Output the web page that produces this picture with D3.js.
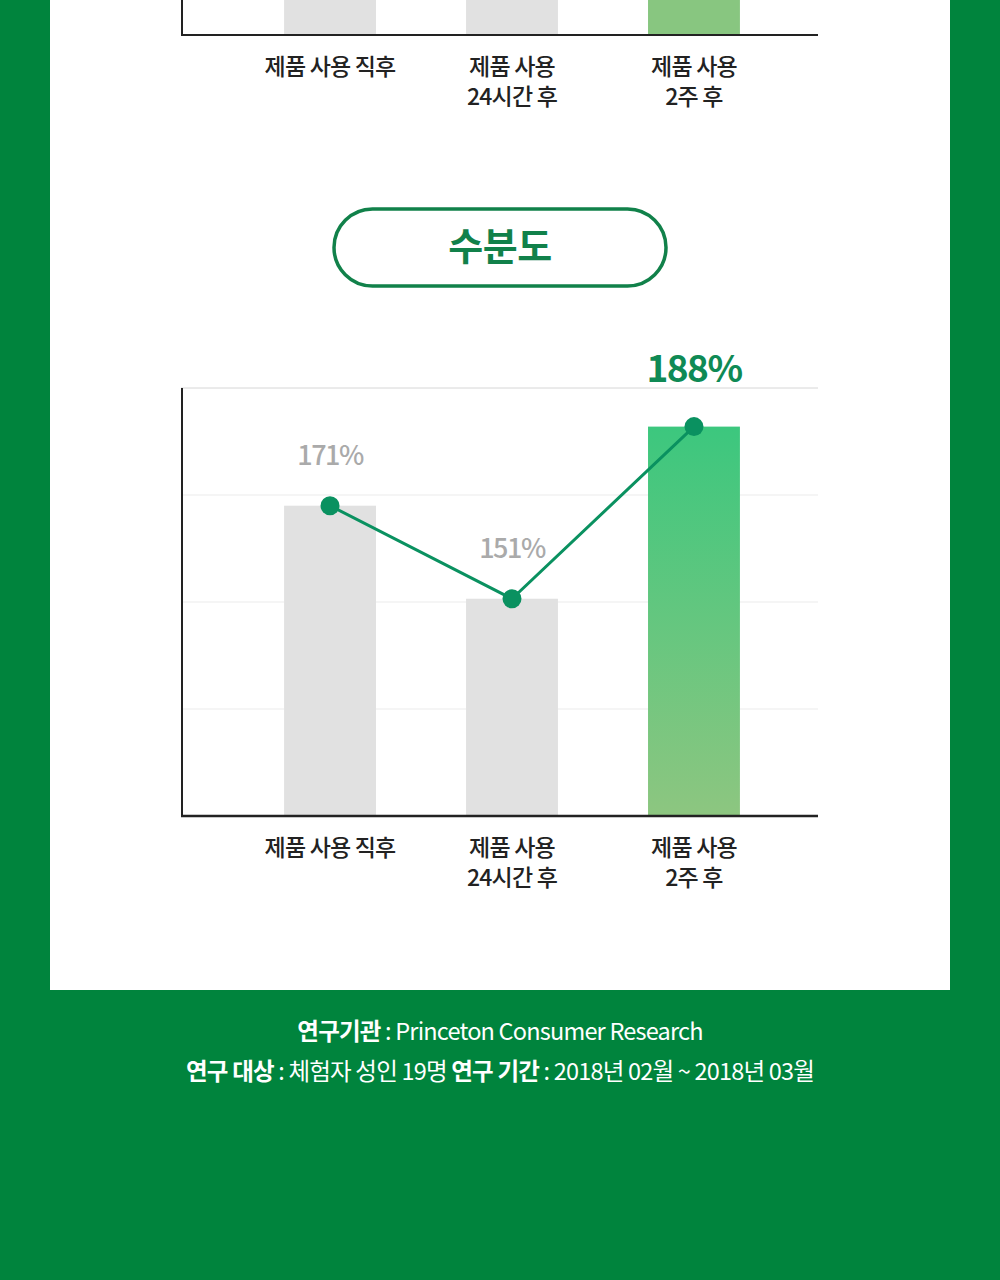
<!DOCTYPE html>
<html>
<head>
<meta charset="utf-8">
<script src="https://cdn.jsdelivr.net/npm/d3@7"></script>
<style>
  html, body { margin: 0; padding: 0; background: #00843d; }
  svg { display: block; }
  text { font-family: "Noto Sans CJK KR", "Noto Sans", sans-serif; }
</style>
</head>
<body>
<div id="chart"></div>
<script>
// Categories shared by both charts
var categories = ["제품 사용 직후", "제품 사용\n24시간 후", "제품 사용\n2주 후"];
// Moisture values (%)
var moisture = [171, 151, 188];
var moistureLabels = ["171%", "151%", "188%"];
// Previous chart (only its bottom is visible) - tops run off the page
var prevValues = [160, 160, 160];
var title = "수분도";
var footerLine1 = [{t: "연구기관", b: true}, {t: " : Princeton Consumer Research", b: false}];
var footerLine2 = [{t: "연구 대상", b: true}, {t: " : 체험자 성인 19명 ", b: false}, {t: "연구 기간", b: true}, {t: " : 2018년 02월 ~ 2018년 03월", b: false}];

var W = 1000, H = 1280;
var svg = d3.select('#chart').append('svg').attr('width', W).attr('height', H);

svg.append('rect').attr('width', W).attr('height', H).attr('fill', '#00843d');
svg.append('rect').attr('x', 50).attr('y', 0).attr('width', 900).attr('height', 990).attr('fill', '#fff');

var defs = svg.append('defs');
var grad = defs.append('linearGradient').attr('id', 'gbar').attr('x1', 0).attr('y1', 0).attr('x2', 0).attr('y2', 1);
grad.append('stop').attr('offset', '0%').attr('stop-color', '#3cc77e');
grad.append('stop').attr('offset', '100%').attr('stop-color', '#8dc680');

var x = d3.scaleBand().domain(categories).range([194, 830]).padding(0.495);

// ---- previous chart bottom ----
var yPrev = d3.scaleLinear().domain([0, 100]).range([35, -20]);
var gp = svg.append('g');
gp.selectAll('rect.bar').data(prevValues).enter().append('rect')
  .attr('x', function(d, i) { return x(categories[i]); })
  .attr('width', x.bandwidth())
  .attr('y', function(d) { return yPrev(d); })
  .attr('height', function(d) { return yPrev(0) - yPrev(d); })
  .attr('fill', function(d, i) { return i == 2 ? '#88c680' : '#e1e1e1'; });
gp.append('line').attr('x1', 182).attr('x2', 182).attr('y1', 0).attr('y2', 35).attr('stroke', '#222').attr('stroke-width', 2);
gp.append('line').attr('x1', 181).attr('x2', 818).attr('y1', 35).attr('y2', 35).attr('stroke', '#222').attr('stroke-width', 2);

function catLabels(g, y0) {
  categories.forEach(function(c) {
    var lines = c.split('\n');
    var t = g.append('text').attr('text-anchor', 'middle').attr('fill', '#222')
      .style('font-size', '23px').style('font-weight', 500).style('letter-spacing', '-0.8px');
    lines.forEach(function(l, k) {
      t.append('tspan').attr('x', x(c) + x.bandwidth() / 2).attr('y', y0 + k * 30).text(l);
    });
  });
}
catLabels(gp, 75);

// ---- title pill ----
svg.append('rect').attr('x', 334).attr('y', 209).attr('width', 332).attr('height', 77).attr('rx', 38.5)
  .attr('fill', '#fff').attr('stroke', '#11814a').attr('stroke-width', 3.5);
svg.append('text').attr('x', 500).attr('y', 260).attr('text-anchor', 'middle').attr('fill', '#11814a')
  .style('font-size', '38px').style('font-weight', 700).style('letter-spacing', '-0.5px').text(title);

// ---- moisture chart ----
var plotTop = 388, plotBottom = 816, plotLeft = 181, plotRight = 818;
var y = d3.scaleLinear().domain([104.3, 196.3]).range([plotBottom, plotTop]);
var g = svg.append('g');

var gridVals = d3.range(1, 5).map(function(k) { return y.invert(plotBottom - k * (plotBottom - plotTop) / 4); });
g.selectAll('line.grid').data(gridVals).enter().append('line')
  .attr('x1', plotLeft).attr('x2', plotRight)
  .attr('y1', function(d) { return y(d); }).attr('y2', function(d) { return y(d); })
  .attr('stroke', function(d, i) { return i == 3 ? '#d6d6d6' : '#ebebeb'; }).attr('stroke-width', 1);

g.selectAll('rect.bar').data(moisture).enter().append('rect')
  .attr('x', function(d, i) { return x(categories[i]); })
  .attr('width', x.bandwidth())
  .attr('y', function(d) { return y(d); })
  .attr('height', function(d) { return plotBottom - y(d); })
  .attr('fill', function(d, i) { return i == 2 ? 'url(#gbar)' : '#e1e1e1'; });

g.append('line').attr('x1', plotLeft + 1).attr('x2', plotLeft + 1).attr('y1', plotTop).attr('y2', plotBottom).attr('stroke', '#222').attr('stroke-width', 2);
g.append('line').attr('x1', plotLeft).attr('x2', plotRight).attr('y1', plotBottom).attr('y2', plotBottom).attr('stroke', '#222').attr('stroke-width', 2.5);

var line = d3.line()
  .x(function(d, i) { return x(categories[i]) + x.bandwidth() / 2; })
  .y(function(d) { return y(d); });
g.append('path').datum(moisture).attr('d', line).attr('fill', 'none').attr('stroke', '#0a9160').attr('stroke-width', 3);
g.selectAll('circle.pt').data(moisture).enter().append('circle')
  .attr('cx', function(d, i) { return x(categories[i]) + x.bandwidth() / 2; })
  .attr('cy', function(d) { return y(d); })
  .attr('r', 9.5).attr('fill', '#0a9160');

g.selectAll('text.val').data(moisture).enter().append('text')
  .attr('x', function(d, i) { return x(categories[i]) + x.bandwidth() / 2; })
  .attr('y', function(d, i) { return i == 2 ? y(d) - 45 : y(d) - 41; })
  .attr('text-anchor', 'middle')
  .attr('fill', function(d, i) { return i == 2 ? '#0f8a55' : '#aaaaaa'; })
  .style('font-size', function(d, i) { return i == 2 ? '37px' : '27px'; })
  .style('font-weight', function(d, i) { return i == 2 ? 700 : 500; })
  .style('letter-spacing', '-1.5px')
  .text(function(d, i) { return moistureLabels[i]; });

catLabels(g, 856);

// ---- footer ----
function footer(parts, yy) {
  var t = svg.append('text').attr('x', 500).attr('y', yy).attr('text-anchor', 'middle').attr('fill', '#fff')
    .style('font-size', '23.5px').style('letter-spacing', '-0.8px');
  parts.forEach(function(p) {
    t.append('tspan').style('font-weight', p.b ? 700 : 400).text(p.t);
  });
}
footer(footerLine1, 1040);
footer(footerLine2, 1080);
</script>
</body>
</html>
